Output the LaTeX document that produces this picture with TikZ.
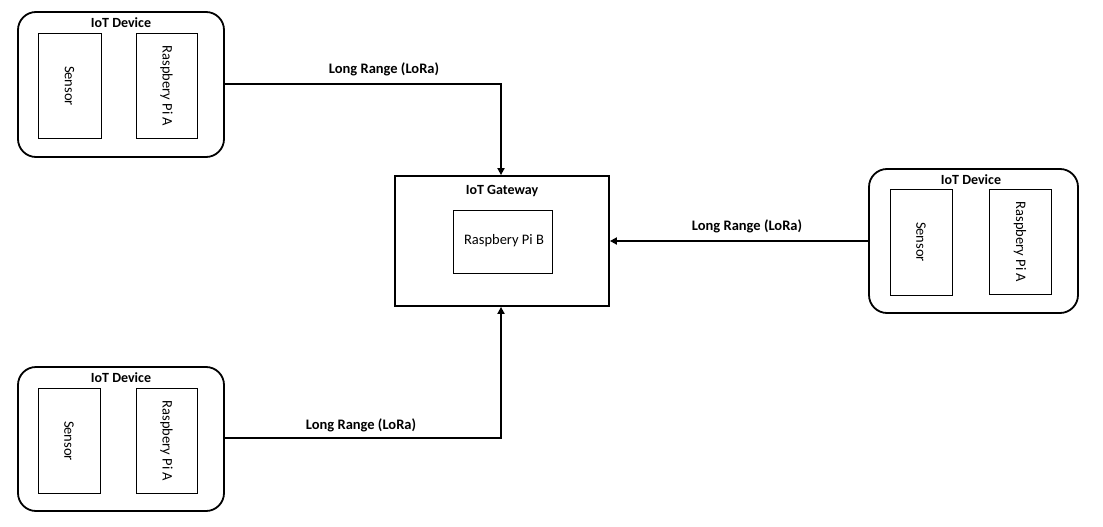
\documentclass[tikz,border=0pt]{standalone}
\usepackage{fontspec}
\setmainfont{Carlito}
\usetikzlibrary{arrows.meta}
\begin{document}
\begin{tikzpicture}[x=1pt,y=-1pt,
  device/.style={draw,line width=1.8pt,rounded corners=18pt},
  part/.style={draw,line width=0.9pt},
  gw/.style={draw,line width=1.8pt},
  ttl/.style={font=\fontsize{14}{16}\selectfont\bfseries,inner sep=0pt},
  txt/.style={font=\fontsize{14.5}{16}\selectfont,inner sep=0pt},
  vtxt/.style={txt,rotate=-90},
  link/.style={line width=2pt,-{Triangle[length=7pt,width=7pt]}},
  lbl/.style={font=\fontsize{14.5}{16}\selectfont\bfseries,inner sep=0pt}]
\useasboundingbox (0,0) rectangle (1103,527);
% top-left device
\draw[device] (18,12) rectangle (224,157);
\node[ttl] (t1) at (121,23) {IoT Device};
\draw[part] (38,33) rectangle (101,138); \node[vtxt] (s1) at (69.5,86) {Sensor};
\draw[part] (136,33) rectangle (197,138); \node[vtxt] (r1) at (166.5,86) {Raspbery Pi A};
\coordinate (d1) at (224,84);
% bottom-left device
\draw[device] (18,367) rectangle (224,511);
\node[ttl] (t2) at (121,378) {IoT Device};
\draw[part] (38,388) rectangle (100,493); \node[vtxt] (s2) at (69,441) {Sensor};
\draw[part] (136,388) rectangle (197,493); \node[vtxt] (r2) at (166.5,441) {Raspbery Pi A};
\coordinate (d2) at (224,438);
% right device
\draw[device] (869,169) rectangle (1078,313);
\node[ttl] (t3) at (971,180) {IoT Device};
\draw[part] (890,189) rectangle (952,295); \node[vtxt] (s3) at (921,242) {Sensor};
\draw[part] (989,189) rectangle (1051,294); \node[vtxt] (r3) at (1020,242) {Raspbery Pi A};
\coordinate (d3) at (869,241);
% gateway
\node[gw,minimum width=214pt,minimum height=130pt,inner sep=0pt] (gw) at (502,241) {};
\node[ttl] (tg) at (502,191) {IoT Gateway};
\node[part,minimum width=99pt,minimum height=63pt,inner sep=0pt] (rb) at (502.5,241.5) {};
\node[txt] (rbt) at (504,241) {Raspbery Pi B};
% links
\draw[link] (d1) -- (501,84) -- (gw.north -| 501,0);
\node[lbl] (l1) at (384,69) {Long Range (LoRa)};
\draw[link] (d3) -- (gw.east |- d3);
\node[lbl] (l3) at (747,226) {Long Range (LoRa)};
\draw[link] (d2) -- (501,438) -- (gw.south -| 501,0);
\node[lbl] (l2) at (361,425) {Long Range (LoRa)};
\end{tikzpicture}
\end{document}
